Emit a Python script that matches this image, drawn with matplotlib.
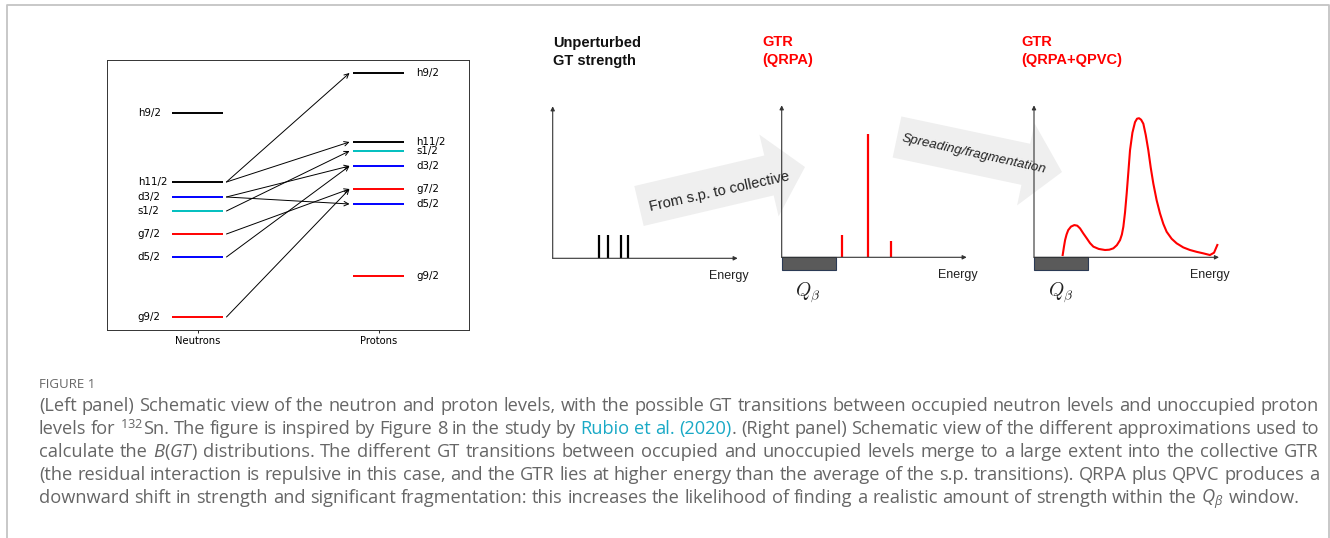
import matplotlib
matplotlib.use("Agg")
import matplotlib.pyplot as plt
from matplotlib.patches import FancyArrow

W, H = 1330, 538

# single-particle levels for 132Sn (arbitrary energy units)
levels = ["g9/2", "d5/2", "g7/2", "s1/2", "d3/2", "h11/2", "h9/2"]
level_colors = ["red", "blue", "red", "c", "blue", "k", "k"]
neutron_E = [1.3, 7.3, 9.6, 11.9, 13.3, 14.8, 21.7]
proton_E = [5.4, 12.6, 14.1, 17.9, 16.4, 18.8, 25.7]
# GT transitions neutron level -> proton level
gt_from = ["h11/2", "h11/2", "d3/2", "d3/2", "s1/2", "g7/2", "d5/2", "g9/2"]
gt_to = ["h9/2", "h11/2", "d3/2", "d5/2", "s1/2", "g7/2", "d3/2", "g7/2"]

# schematic strength distributions (energy, strength)
sp_E = [2.50, 3.01, 3.68, 4.09]
sp_S = [1.53, 1.53, 1.53, 1.53]
qrpa_E = [3.24, 4.68, 5.89]
qrpa_S = [1.47, 8.09, 1.07]
q_beta = 2.94
qpvc_E = [1.55, 1.62, 1.68, 1.76, 1.85, 2.00, 2.18, 2.34, 2.49, 2.66, 2.85, 3.03,
          3.21, 3.50, 3.84, 4.07, 4.29, 4.48, 4.65, 4.75, 4.83, 4.92, 5.01, 5.10,
          5.19, 5.32, 5.46, 5.57, 5.68, 5.79, 5.91, 6.04, 6.18, 6.31, 6.45, 6.63,
          6.81, 6.99, 7.17, 7.44, 7.71, 8.07, 8.43, 8.79, 9.15, 9.51, 9.73, 9.91]
qpvc_S = [0.15, 0.70, 1.13, 1.50, 1.79, 2.02, 2.12, 2.08, 1.90, 1.58, 1.25, 0.93,
          0.70, 0.55, 0.48, 0.50, 0.59, 0.80, 1.13, 1.50, 2.01, 2.95, 4.20, 5.60,
          7.04, 8.20, 8.89, 9.12, 9.15, 9.05, 8.79, 8.05, 7.04, 5.90, 4.85, 3.75,
          2.89, 2.20, 1.68, 1.22, 0.92, 0.65, 0.48, 0.36, 0.26, 0.15, 0.30, 0.81]

titles = ["Unperturbed\nGT strength", "GTR\n(QRPA)", "GTR\n(QRPA+QPVC)"]
title_colors = ["#111111", "red", "red"]

caption_head = "FIGURE 1"
caption = [
    [("(Left panel) Schematic view of the neutron and proton levels, with the possible GT transitions between occupied neutron levels and unoccupied proton", "n")],
    [("levels for ", "n"), ("$^{132}$", "n"), ("Sn. The figure is inspired by Figure 8 in the study by ", "n"),
     ("Rubio et al. (2020)", "link"), (". (Right panel) Schematic view of the different approximations used to", "n")],
    [("calculate the ", "n"), ("B", "i"), ("(", "n"), ("GT", "i"),
     (") distributions. The different GT transitions between occupied and unoccupied levels merge to a large extent into the collective GTR", "n")],
    [("(the residual interaction is repulsive in this case, and the GTR lies at higher energy than the average of the s.p. transitions). QRPA plus QPVC produces a", "n")],
    [("downward shift in strength and significant fragmentation: this increases the likelihood of finding a realistic amount of strength within the ", "n"),
     ("$Q_\\beta$", "n"), (" window.", "n")],
]

plt.rcParams["mathtext.fontset"] = "custom"
plt.rcParams["mathtext.rm"] = "Open Sans"
plt.rcParams["mathtext.it"] = "Open Sans:italic"

fig = plt.figure(figsize=(W / 100, H / 100), dpi=100)


def px_axes(x0, y0, w, h):
    # x0, y0 = top-left corner in pixels
    return fig.add_axes([x0 / W, 1 - (y0 + h) / H, w / W, h / H])


# background layer: frame and the two big grey arrows
bg = fig.add_axes([0, 0, 1, 1])
bg.set_xlim(0, W)
bg.set_ylim(H, 0)
bg.axis("off")
bg.plot([6.5, 6.5, 1329, 1329], [H, 4.5, 4.5, H], color="#c4c4c4", lw=1.3)
bg.add_patch(FancyArrow(639, 206, 166, -39, width=41, head_width=84, head_length=37,
                        length_includes_head=True, fc="#efefef", ec="none"))
bg.add_patch(FancyArrow(897, 137, 165, 35, width=42, head_width=84, head_length=37,
                        length_includes_head=True, fc="#efefef", ec="none"))
bg.text(719, 192, "From s.p. to collective", rotation=12.5, rotation_mode="anchor",
        ha="center", va="center", fontsize=10.5, family="Liberation Sans", color="#222222")
bg.text(974, 154, "Spreading/fragmentation", rotation=-12.5, rotation_mode="anchor",
        ha="center", va="center", fontsize=9.6, style="italic", family="Liberation Sans",
        color="#222222")

# left panel: level scheme
ax = px_axes(107, 60, 362, 270)
ax.set_xlim(-0.5, 1.5)
ax.set_ylim(0, 27)
ax.hlines(neutron_E, -0.14, 0.14, colors=level_colors, lw=1.4)
ax.hlines(proton_E, 0.86, 1.14, colors=level_colors, lw=1.4)
for name, en, ep in zip(levels, neutron_E, proton_E):
    ax.text(-0.33, en, name, ha="left", va="center", fontsize=7.4)
    ax.text(1.21, ep, name, ha="left", va="center", fontsize=7.4)
for a, b in zip(gt_from, gt_to):
    ax.annotate("", xy=(0.84, proton_E[levels.index(b)]), xytext=(0.16, neutron_E[levels.index(a)]),
                arrowprops=dict(arrowstyle="->", color="k", lw=0.7, shrinkA=0, shrinkB=0,
                                mutation_scale=8))
ax.set_xticks([0, 1])
ax.set_xticklabels(["Neutrons", "Protons"], fontsize=7.2)
ax.set_yticks([])
ax.tick_params(axis="x", length=2.5, width=0.6, pad=2)
for s in ax.spines.values():
    s.set_linewidth(0.7)
    s.set_color("#333333")

# right panel: three schematic spectra
origins = [(552.7, 258.3), (781.7, 257.3), (1034, 257.3)]
title_x = [0, -1.06, -0.70]
axs = []
for (x0, y0), t, tc, tx in zip(origins, titles, title_colors, title_x):
    a = px_axes(x0, y0 - 152, 185, 152)
    a.set_xlim(0, 10)
    a.set_ylim(0, 10)
    a.axis("off")
    arrow = dict(arrowstyle="-|>", color="#333333", lw=0.8, mutation_scale=6, shrinkA=0, shrinkB=0)
    a.annotate("", xy=(0, 10), xytext=(0, 0), arrowprops=arrow, annotation_clip=False)
    a.annotate("", xy=(10, 0), xytext=(0, 0), arrowprops=arrow, annotation_clip=False)
    a.text(9.5, -1.16, "Energy", ha="center", va="center", fontsize=9,
           family="Liberation Sans", color="#222222")
    a.text(tx, 14.6, t, ha="left", va="top", fontsize=10.5, fontweight="bold",
           family="Liberation Sans", color=tc, linespacing=1.35)
    axs.append(a)

axs[0].vlines(sp_E, 0, sp_S, colors="k", lw=1.6)
axs[1].vlines(qrpa_E, 0, qrpa_S, colors="red", lw=1.6)
axs[2].plot(qpvc_E, qpvc_S, color="red", lw=1.5, clip_on=False)
for a in axs[1:]:
    a.bar(0, -0.86, width=q_beta, align="edge", color="#5a5a5a", edgecolor="#2b3a55",
          lw=0.8, clip_on=False)
    a.text(1.42, -2.34, r"$Q_\beta$", ha="center", va="center", fontsize=14,
           math_fontfamily="cm", color="#222222")

# caption, justified word by word
fig.text(39 / W, 1 - 385 / H, caption_head, ha="left", va="center", fontsize=9.5,
         family="Open Sans", color="#666666")

cap_left, cap_right = 39, 1319
last_right = 1300          # the unjustified last line ends here
cap_base = [411, 434, 457, 480, 503]
renderer = fig.canvas.get_renderer()


def cap_kw(st, size):
    kw = dict(fontsize=size, family="Open Sans", color="#666666", va="baseline", ha="left")
    if st == "i":
        kw["style"] = "italic"
    if st == "link":
        kw["color"] = "#19a9c6"
    return kw


def width(t):
    return t.get_window_extent(renderer).width


# build words (each word may hold pieces of different style)
rows = []
for segs, yb in zip(caption, cap_base):
    words = [[]]
    for txt, st in segs:
        for k, p in enumerate(txt.split(" ")):
            if k > 0:
                words.append([])
            if p:
                words[-1].append((p, st))
    words = [w for w in words if w]
    rows.append([[fig.text(0, 1 - yb / H, p, **cap_kw(st, 12)) for p, st in w] for w in words])


def space_width(size):
    t1 = fig.text(0, 0, "n n", **cap_kw("n", size))
    t2 = fig.text(0, 0, "nn", **cap_kw("n", size))
    sw = width(t1) - width(t2)
    t1.remove()
    t2.remove()
    return sw


# scale font so the natural last line has the reference length
last = rows[-1]
nat = sum(width(t) for w in last for t in w) + space_width(12) * (len(last) - 1)
cap_size = 12 * (last_right - cap_left) / nat
for r in rows:
    for w in r:
        for t in w:
            t.set_fontsize(cap_size)
space_w = space_width(cap_size)

for i, r in enumerate(rows):
    widths = [[width(t) for t in w] for w in r]
    total = sum(sum(ws) for ws in widths)
    if i == len(rows) - 1:
        gap = space_w
    else:
        gap = max((cap_right - cap_left - total) / (len(r) - 1), 0.5 * space_w)
    x = cap_left
    for w, ws in zip(r, widths):
        for t, wd in zip(w, ws):
            t.set_x(x / W)
            x += wd
        x += gap

fig.savefig("out.png", dpi=100)
